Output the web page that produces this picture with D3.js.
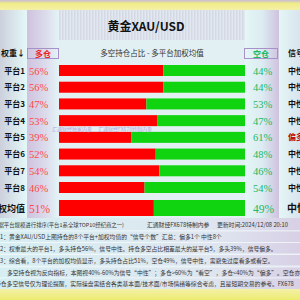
<!DOCTYPE html>
<html>
<head>
<meta charset="utf-8">
<script src="https://cdn.jsdelivr.net/npm/d3@7/dist/d3.min.js"></script>
<style>
  body { margin: 0; background: #e6f4f6; }
  svg { display: block; font-family: "Noto Sans CJK SC", sans-serif; }
</style>
</head>
<body>
<div id="chart"></div>
<script>
const width = 300
const height = 300

// data
const platforms = ["平台1", "平台2", "平台3", "平台4", "平台5", "平台6", "平台7", "平台8"]
const longPct = [56, 56, 47, 53, 39, 52, 54, 46]
const shortPct = [44, 44, 53, 47, 61, 48, 46, 54]
const signals = ["中性", "中性", "中性", "中性", "偏多", "中性", "中性", "中性"]
const avgLabel = "加权均值"
const avgLong = 51
const avgShort = 49
const avgSignal = "中性"

const headerNote = ["依据平台规模进行排序(平台1系全球TOP10经纪商之一)", "汇通财经FX678特制内参", "更新时间:2024/12/08 20:10"]
const notes = [
    "1：黄金XAU/USD上图持仓的8个平台+加权均值的\u201c信号个数\u201d汇总：偏多1个  中性8个",
    "2：权重最大的平台1，多头持仓56%，信号中性。持仓多空占比相差最大的是平台5，多头39%，信号偏多。",
    "3：综合看，8个平台的加权均值显示，多头持仓占比51%，空仓49%，信号中性，需避免过度看多或看空。",
    "多空持仓视为反向指标，本图视40%-60%为信号\u201c中性\u201d；多仓>60%为\u201c看空\u201d，多仓<40%为\u201c偏多\u201d。空仓亦然。",
    "持仓多空信号仅为理论提醒，实际操盘需结合各类基本面/技术面/市场情绪等综合考虑，且是短期交易的参考。FX678"
]

const svg = d3.select('#chart').append('svg')
    .attr('width', width)
    .attr('height', height)

const defs = svg.append('defs')
function grad(id, stops, vertical) {
    const g = defs.append('linearGradient').attr('id', id)
        .attr('x1', 0).attr('y1', 0)
        .attr('x2', vertical ? 0 : 1).attr('y2', vertical ? 1 : 0)
    stops.forEach(s => g.append('stop').attr('offset', s[0]).attr('stop-color', s[1]))
}
grad('gLeft', [[0, '#ccd0dc'], [1, '#e4f8f8']])
grad('gPurple', [[0, '#cfc2de'], [0.6, '#dcdcec'], [1, '#e4f4f6']])
grad('gRightPurple', [[0, '#e4f6f6'], [0.5, '#dcecf2'], [1, '#cfc2de']])
grad('gSignal', [[0, '#e4f6f6'], [1, '#d8e4ee']])
grad('gTop', [[0, '#c8bcd4'], [0.35, '#f0ec88'], [1, '#f4f0a8']], true)
grad('gBottom', [[0, '#f4f0a8'], [1, '#ecec70']], true)
grad('gNote', [[0, '#d6eef2'], [0.7, '#dfe6f0'], [1, '#d8d0e6']])

// column backgrounds
svg.append('rect').attr('x', 0).attr('y', 0).attr('width', 300).attr('height', 300).attr('fill', '#e6f4f6')
svg.append('rect').attr('x', 0).attr('y', 10).attr('width', 27).attr('height', 212).attr('fill', 'url(#gLeft)')
svg.append('rect').attr('x', 27).attr('y', 10).attr('width', 32).attr('height', 212).attr('fill', 'url(#gPurple)')
svg.append('rect').attr('x', 59).attr('y', 10).attr('width', 186).attr('height', 212).attr('fill', '#e2f0f4')
svg.append('rect').attr('x', 245).attr('y', 10).attr('width', 34).attr('height', 212).attr('fill', 'url(#gRightPurple)')
svg.append('rect').attr('x', 279).attr('y', 10).attr('width', 21).attr('height', 212).attr('fill', 'url(#gSignal)')

// striped header
const stripes = d3.range(59, 245, 3)
svg.append('g').selectAll('rect').data(stripes).join('rect')
    .attr('x', d => d).attr('y', 10).attr('width', 1.5).attr('height', 30)
    .attr('fill', '#d0d4e0')
svg.append('rect').attr('x', 59).attr('y', 10).attr('width', 186).attr('height', 30)
    .attr('fill', '#dde1ec').attr('opacity', 0.45)

svg.append('rect').attr('x', 0).attr('y', 0).attr('width', 300).attr('height', 10).attr('fill', 'url(#gTop)')

svg.append('text').attr('x', 146).attr('y', 31).attr('text-anchor', 'middle')
    .style('font-size', '12px').style('font-weight', 'bold').attr('fill', '#111')
    .text('黄金XAU/USD')
svg.append('text').attr('x', 152).attr('y', 56).attr('text-anchor', 'middle')
    .style('font-size', '7.5px').attr('fill', '#333')
    .text('多空持仓占比 - 多平台加权均值')

// header boxes
svg.append('rect').attr('x', 27.5).attr('y', 48.5).attr('width', 31).attr('height', 10)
    .attr('fill', 'none').attr('stroke', '#a692c8')
svg.append('text').attr('x', 43).attr('y', 56.5).attr('text-anchor', 'middle')
    .style('font-size', '8px').style('font-weight', 'bold').attr('fill', '#ee2020').text('多仓')
svg.append('rect').attr('x', 244.5).attr('y', 48.5).attr('width', 33).attr('height', 10)
    .attr('fill', 'none').attr('stroke', '#a692c8')
svg.append('text').attr('x', 261).attr('y', 56.5).attr('text-anchor', 'middle')
    .style('font-size', '8px').style('font-weight', 'bold').attr('fill', '#20b860').text('空仓')
svg.append('text').attr('x', 25).attr('y', 56).attr('text-anchor', 'end')
    .style('font-size', '8px').style('font-weight', 'bold').attr('fill', '#111').text('权重↓')
svg.append('text').attr('x', 288).attr('y', 56)
    .style('font-size', '8px').style('font-weight', 'bold').attr('fill', '#111').text('信号')

// scales
const xScale = d3.scaleLinear().domain([0, 100]).range([59, 245])
const yScale = d3.scalePoint().domain(platforms).range([70.5, 187.5])
const barH = 11
const avgY = 208
const avgH = 16

const rows = svg.append('g')
platforms.forEach((p, i) => {
    const cy = yScale(p)
    rows.append('rect').attr('x', xScale(0)).attr('y', cy - barH / 2)
        .attr('width', xScale(longPct[i]) - xScale(0)).attr('height', barH).attr('fill', '#ff0000')
    rows.append('rect').attr('x', xScale(longPct[i])).attr('y', cy - barH / 2)
        .attr('width', xScale(100) - xScale(longPct[i])).attr('height', barH).attr('fill', '#10d410')
    rows.append('text').attr('x', 25).attr('y', cy + 3).attr('text-anchor', 'end')
        .style('font-size', '8px').style('font-weight', 'bold').attr('fill', '#111').text(p)
    rows.append('text').attr('x', 29).attr('y', cy + 4)
        .style('font-family', '"Liberation Serif", serif').style('font-size', '10.5px')
        .attr('fill', '#ff4848').text(longPct[i] + '%')
    rows.append('text').attr('x', 253).attr('y', cy + 4)
        .style('font-family', '"Liberation Serif", serif').style('font-size', '10.5px')
        .attr('fill', '#20b860').text(shortPct[i] + '%')
    rows.append('text').attr('x', 288).attr('y', cy + 3)
        .style('font-size', '8px').style('font-weight', 'bold')
        .attr('fill', signals[i] === '中性' ? '#111' : '#c00000').text(signals[i])
})

// weighted average row
rows.append('rect').attr('x', xScale(0)).attr('y', avgY - avgH / 2)
    .attr('width', xScale(avgLong) - xScale(0)).attr('height', avgH).attr('fill', '#ff0000')
rows.append('rect').attr('x', xScale(avgLong)).attr('y', avgY - avgH / 2)
    .attr('width', xScale(100) - xScale(avgLong)).attr('height', avgH).attr('fill', '#10d410')
rows.append('text').attr('x', 25).attr('y', avgY + 3.5).attr('text-anchor', 'end')
    .style('font-size', '9px').style('font-weight', 'bold').attr('fill', '#111').text(avgLabel)
rows.append('text').attr('x', 29).attr('y', avgY + 4.5)
    .style('font-family', '"Liberation Serif", serif').style('font-size', '11.5px')
    .attr('fill', '#ff4848').text(avgLong + '%')
rows.append('text').attr('x', 253).attr('y', avgY + 4.5)
    .style('font-family', '"Liberation Serif", serif').style('font-size', '11.5px')
    .attr('fill', '#20b860').text(avgShort + '%')
rows.append('text').attr('x', 287).attr('y', avgY + 4)
    .style('font-size', '10px').style('font-weight', 'bold').attr('fill', '#111').text(avgSignal)

// watermark
svg.append('text').attr('x', 52).attr('y', 131)
    .style('font-size', '5px').attr('fill', '#b4a4dc')
    .text('汇通财经独家内参　 汇通财经FX678特制内参')

// notes
const noteG = svg.append('g')
noteG.append('rect').attr('x', 0).attr('y', 218).attr('width', 300).attr('height', 12.5).attr('fill', 'url(#gNote)')
const headerX = [-7, 147, 217]
const headerSize = [5.4, 5.8, 5.8]
headerNote.forEach((t, i) => {
    noteG.append('text').attr('x', headerX[i]).attr('y', 226.5)
        .style('font-size', headerSize[i] + 'px').attr('fill', '#333').text(t)
})
const noteY = [230.5, 242, 254, 266.5, 277.5]
const noteX = [0, 0, 0, 7, -5]
notes.forEach((t, i) => {
    noteG.append('rect').attr('x', 0).attr('y', noteY[i]).attr('width', 300).attr('height', 11.5)
        .attr('fill', 'url(#gNote)')
    noteG.append('rect').attr('x', 0).attr('y', noteY[i]).attr('width', 300).attr('height', 0.8)
        .attr('fill', '#f4fafa')
    noteG.append('text').attr('x', noteX[i]).attr('y', noteY[i] + 8.5)
        .style('font-size', '5.8px').attr('fill', '#333').text(t)
})
svg.append('rect').attr('x', 0).attr('y', 289).attr('width', 300).attr('height', 11).attr('fill', 'url(#gBottom)')
</script>
</body>
</html>
